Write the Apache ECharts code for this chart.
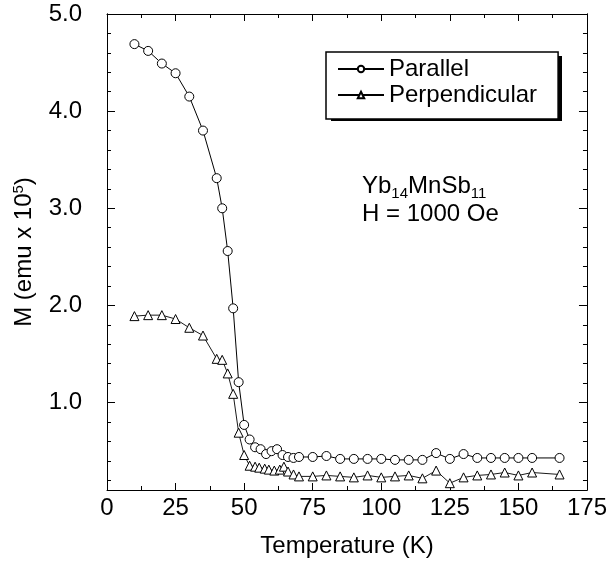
<!DOCTYPE html>
<html>
<head>
<meta charset="utf-8">
<script src="https://cdn.jsdelivr.net/npm/echarts@6/dist/echarts.min.js"></script>
<style>
  html, body { margin: 0; padding: 0; background: #fff; }
  #chart { width: 610px; height: 563px; }
</style>
</head>
<body>
<div id="chart"></div>
<script>
// ---- data ----
const parallelTemps = [10, 15, 20, 25, 30, 35, 40, 42, 44, 46, 48, 50, 52, 54, 56, 58, 60, 62, 64, 66, 68, 70, 75, 80, 85, 90, 95, 100, 105, 110, 115, 120, 125, 130, 135, 140, 145, 150, 155, 165];
const parallelM = [4.69, 4.62, 4.49, 4.39, 4.15, 3.80, 3.31, 3.00, 2.56, 1.97, 1.21, 0.77, 0.62, 0.54, 0.52, 0.47, 0.50, 0.52, 0.46, 0.44, 0.43, 0.44, 0.44, 0.45, 0.42, 0.42, 0.42, 0.42, 0.41, 0.41, 0.41, 0.48, 0.42, 0.47, 0.43, 0.43, 0.43, 0.43, 0.43, 0.43];

const perpTemps = [10, 15, 20, 25, 30, 35, 40, 42, 44, 46, 48, 50, 52, 54, 55.5, 57.5, 59, 61, 63, 64.5, 66, 68, 70, 75, 80, 85, 90, 95, 100, 105, 110, 115, 120, 125, 130, 135, 140, 145, 150, 155, 165];
const perpM = [1.89, 1.90, 1.90, 1.86, 1.77, 1.69, 1.45, 1.44, 1.30, 1.09, 0.69, 0.46, 0.35, 0.34, 0.33, 0.32, 0.31, 0.30, 0.31, 0.34, 0.29, 0.26, 0.24, 0.24, 0.25, 0.24, 0.23, 0.25, 0.23, 0.24, 0.25, 0.22, 0.30, 0.17, 0.23, 0.25, 0.26, 0.28, 0.25, 0.28, 0.26];

const seriesNames = ['Parallel', 'Perpendicular'];
const yMajorTicks = [1, 2, 3, 4, 5];
const yMinorTicks = [0.2, 0.4, 0.6, 0.8, 1.2, 1.4, 1.6, 1.8, 2.2, 2.4, 2.6, 2.8, 3.2, 3.4, 3.6, 3.8, 4.2, 4.4, 4.6, 4.8];
const xTickInterval = 25;
const xMin = 0, xMax = 175;
const yMin = 0.1, yMax = 5.0;

// ---- chart ----
const FONT = '"Liberation Sans", Arial, Helvetica, sans-serif';
const FS = 24;
const chart = echarts.init(document.getElementById('chart'), null, { renderer: 'canvas' });

function pairs(xs, ys) { return xs.map((x, i) => [x, ys[i]]); }

const lineBlack = { color: '#000', width: 1 };

function xAxisDef(pos, showLabels) {
  return {
    type: 'value', position: pos, min: xMin, max: xMax, interval: xTickInterval,
    axisLine: { show: true, onZero: false, lineStyle: lineBlack },
    axisTick: { show: true, inside: true, length: 7, lineStyle: lineBlack },
    minorTick: { show: true, splitNumber: 2, length: 4, lineStyle: lineBlack },
    splitLine: { show: false },
    axisLabel: { show: showLabels, fontSize: FS, color: '#000', fontFamily: FONT, margin: 6 },
    name: showLabels ? 'Temperature (K)' : '',
    nameLocation: 'middle', nameGap: 44,
    nameTextStyle: { fontSize: FS, color: '#000', fontFamily: FONT }
  };
}

function yAxisDef(pos, ticks, len, showLabels) {
  const ax = {
    type: 'value', position: pos, min: yMin, max: yMax,
    axisLine: { show: true, onZero: false, lineStyle: lineBlack },
    axisTick: { show: true, inside: true, length: len, customValues: ticks, lineStyle: lineBlack },
    splitLine: { show: false },
    axisLabel: showLabels ? {
      show: true, customValues: ticks, fontSize: FS, color: '#000', fontFamily: FONT, margin: 25,
      formatter: v => v.toFixed(1)
    } : { show: false }
  };
  if (showLabels) {
    ax.name = '{n|M (emu x 10}{p|5}{n|)}';
    ax.nameLocation = 'middle';
    ax.nameRotate = 90;
    ax.nameGap = 69;
    ax.nameTextStyle = {
      color: '#000', fontFamily: FONT, fontSize: FS,
      rich: {
        n: { fontSize: FS, color: '#000', fontFamily: FONT },
        p: { fontSize: 15, color: '#000', fontFamily: FONT, padding: [0, 0, 12, 0] }
      }
    };
  }
  return ax;
}

const option = {
  backgroundColor: '#fff',
  animation: false,
  grid: { left: 107, right: 21, top: 14, bottom: 68, containLabel: false },
  xAxis: [xAxisDef('bottom', true), xAxisDef('top', false)],
  yAxis: [
    yAxisDef('left', yMajorTicks, 8, true),
    yAxisDef('left', yMinorTicks, 4, false),
    yAxisDef('right', yMajorTicks, 8, false),
    yAxisDef('right', yMinorTicks, 4, false)
  ],
  legend: {
    orient: 'vertical', left: 326, top: 52, z: 20,
    data: seriesNames,
    itemWidth: 46, itemHeight: 8, itemGap: 2,
    padding: [5, 21, 12, 11],
    backgroundColor: '#fff', borderColor: '#000', borderWidth: 1.5,
    textStyle: { fontSize: FS, color: '#000', fontFamily: FONT, lineHeight: 23 }
  },
  graphic: [
    {
      // drop shadow behind the legend box
      type: 'rect', z: 1, zlevel: 0,
      shape: { x: 331, y: 56, width: 231, height: 65 },
      style: { fill: '#000' }
    },
    {
      type: 'text', left: 362, top: 174, z: 10,
      style: {
        text: '{n|Yb}{s|14}{n|MnSb}{s|11}',
        rich: {
          n: { fontSize: FS, fill: '#000', fontFamily: FONT, verticalAlign: 'middle' },
          s: { fontSize: 15, fill: '#000', fontFamily: FONT, verticalAlign: 'middle', padding: [16, 0, 0, 0] }
        }
      }
    },
    {
      type: 'text', left: 362, top: 202, z: 10,
      style: { text: 'H = 1000 Oe', fontSize: FS, fill: '#000', fontFamily: FONT }
    }
  ],
  series: [
    {
      name: seriesNames[0], type: 'line', xAxisIndex: 0, yAxisIndex: 0,
      data: pairs(parallelTemps, parallelM),
      symbol: 'circle', symbolSize: 9,
      lineStyle: { color: '#000', width: 1 },
      itemStyle: { color: '#fff', borderColor: '#000', borderWidth: 1 },
      emphasis: { disabled: true }
    },
    {
      name: seriesNames[1], type: 'line', xAxisIndex: 0, yAxisIndex: 0,
      data: pairs(perpTemps, perpM),
      symbol: 'triangle', symbolSize: 9,
      lineStyle: { color: '#000', width: 0.9 },
      itemStyle: { color: '#fff', borderColor: '#000', borderWidth: 1 },
      emphasis: { disabled: true }
    }
  ]
};
chart.setOption(option);
</script>
</body>
</html>
